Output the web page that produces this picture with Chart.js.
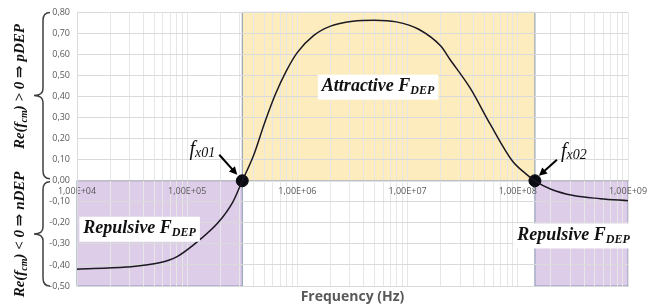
<!DOCTYPE html>
<html>
<head>
<meta charset="utf-8">
<script src="https://cdn.jsdelivr.net/npm/chart.js@4.4.1/dist/chart.umd.min.js"></script>
<style>
html, body { margin: 0; padding: 0; background: #fff; }
</style>
</head>
<body>
<canvas id="dep" width="655" height="308"></canvas>
<script>
// Re(fcm) vs frequency
var freqs = [1e4, 2.8e4, 5.6e4, 8.1e4, 1.3e5, 1.9e5, 2.6e5, 3.16e5, 4.0e5, 5.0e5,
             6.3e5, 7.9e5, 1.0e6, 1.4e6, 2.0e6, 3.2e6, 5.0e6, 7.9e6, 1.26e7, 2.0e7,
             2.4e7, 3.7e7, 5.6e7, 8.9e7, 1.17e8, 1.43e8, 2.0e8, 3.2e8, 5.6e8, 1e9];
var reFcm = [-0.42, -0.41, -0.39, -0.36, -0.28, -0.20, -0.10, 0.00, 0.12, 0.27,
             0.41, 0.52, 0.61, 0.69, 0.735, 0.758, 0.763, 0.755, 0.72, 0.64,
             0.58, 0.44, 0.27, 0.095, 0.035, 0.00, -0.04, -0.07, -0.085, -0.095];
var crossFreqs = [3.16e5, 1.43e8];          // fx01, fx02
var crossNames = ['x01', 'x02'];
var yMin = -0.5, yMax = 0.8, yStep = 0.1;
var xMin = 1e4, xMax = 1e9;
var xTitle = 'Frequency (Hz)';
// shaded zones: [from Hz, to Hz, from Re, to Re]
var attractiveZone = [3.16e5, 1.43e8, 0, 0.8];
var repulsiveZones = [[1e4, 3.16e5, -0.5, 0], [1.43e8, 1e9, -0.5, 0]];

var points = [];
for (var i = 0; i < freqs.length; i++) {
  points.push({ x: freqs[i], y: reFcm[i] });
}
var crossPts = crossFreqs.map(function (f) { return { x: f, y: 0 }; });

var SERIF = "'Liberation Serif', 'DejaVu Serif', serif";

// draw a run of text pieces (main + subscript) centred on cx, cy
function drawRuns(ctx, runs, cx, cy, bg) {
  var w = 0;
  runs.forEach(function (r) { ctx.font = r.font; r.w = ctx.measureText(r.t).width; w += r.w; });
  var x = cx - w / 2;
  if (bg) {
    ctx.fillStyle = '#fff';
    ctx.fillRect(x - 4, cy - 12, w + 8, 25);
  }
  ctx.fillStyle = '#111';
  ctx.textBaseline = 'middle';
  ctx.textAlign = 'left';
  runs.forEach(function (r) {
    ctx.font = r.font;
    ctx.fillText(r.t, x, cy + (r.dy || 0));
    x += r.w;
  });
}

function arrow(ctx, x1, y1, x2, y2) {
  var a = Math.atan2(y2 - y1, x2 - x1);
  ctx.strokeStyle = '#000';
  ctx.fillStyle = '#000';
  ctx.lineWidth = 2;
  ctx.beginPath();
  ctx.moveTo(x1, y1);
  ctx.lineTo(x2 - 5 * Math.cos(a), y2 - 5 * Math.sin(a));
  ctx.stroke();
  ctx.beginPath();
  ctx.moveTo(x2, y2);
  ctx.lineTo(x2 - 8 * Math.cos(a) + 4 * Math.sin(a), y2 - 8 * Math.sin(a) - 4 * Math.cos(a));
  ctx.lineTo(x2 - 8 * Math.cos(a) - 4 * Math.sin(a), y2 - 8 * Math.sin(a) + 4 * Math.cos(a));
  ctx.closePath();
  ctx.fill();
}

function brace(ctx, xLine, yTop, yBot, xEnd, xTip) {
  var mid = (yTop + yBot) / 2;
  ctx.beginPath();
  ctx.moveTo(xEnd, yTop);
  ctx.quadraticCurveTo(xLine, yTop, xLine, yTop + 8);
  ctx.lineTo(xLine, mid - 7);
  ctx.quadraticCurveTo(xLine, mid, xTip, mid);
  ctx.quadraticCurveTo(xLine, mid, xLine, mid + 7);
  ctx.lineTo(xLine, yBot - 8);
  ctx.quadraticCurveTo(xLine, yBot, xEnd, yBot);
  ctx.stroke();
}

function zoneRect(chart, z) {
  var xs = chart.scales.x, ys = chart.scales.y;
  var x1 = xs.getPixelForValue(z[0]), x2 = xs.getPixelForValue(z[1]);
  var y1 = ys.getPixelForValue(z[3]), y2 = ys.getPixelForValue(z[2]);
  return [x1, y1, x2 - x1, y2 - y1];
}

var depOverlay = {
  id: 'depOverlay',
  beforeDraw: function (chart) {
    var ctx = chart.ctx;
    ctx.save();
    var r = zoneRect(chart, attractiveZone);
    ctx.fillStyle = 'rgba(250,215,110,0.45)';
    ctx.fillRect(r[0], r[1], r[2], r[3]);
    ctx.strokeStyle = '#8496b0';
    ctx.lineWidth = 1;
    ctx.strokeRect(r[0], r[1], r[2], r[3]);
    repulsiveZones.forEach(function (z) {
      var q = zoneRect(chart, z);
      ctx.fillStyle = 'rgba(170,130,200,0.4)';
      ctx.fillRect(q[0], q[1], q[2], q[3]);
      ctx.strokeRect(q[0], q[1], q[2], q[3]);
    });
    ctx.restore();
  },
  afterDraw: function (chart) {
    var ctx = chart.ctx, xs = chart.scales.x, ys = chart.scales.y, ca = chart.chartArea;
    ctx.save();
    var bi = 'bold italic 18px ' + SERIF, biSub = 'bold italic 12px ' + SERIF;

    // zone labels
    drawRuns(ctx, [{ t: 'Attractive F', font: bi }, { t: 'DEP', font: biSub, dy: 4 }],
      xs.getPixelForValue(5.4e6), ys.getPixelForValue(0.447), true);
    drawRuns(ctx, [{ t: 'Repulsive F', font: bi }, { t: 'DEP', font: biSub, dy: 4 }],
      xs.getPixelForValue(3.7e4), ys.getPixelForValue(-0.228), true);
    drawRuns(ctx, [{ t: 'Repulsive F', font: bi }, { t: 'DEP', font: biSub, dy: 4 }],
      xs.getPixelForValue(3.2e8), ys.getPixelForValue(-0.26), true);

    // crossover labels + arrows
    var y0 = ys.getPixelForValue(0);
    var d1 = xs.getPixelForValue(crossFreqs[0]), d2 = xs.getPixelForValue(crossFreqs[1]);
    drawRuns(ctx, [{ t: 'f', font: 'italic 20px ' + SERIF }, { t: crossNames[0], font: 'italic 14px ' + SERIF, dy: 4 }],
      d1 - 40, y0 - 31, false);
    drawRuns(ctx, [{ t: 'f', font: 'italic 20px ' + SERIF }, { t: crossNames[1], font: 'italic 14px ' + SERIF, dy: 4 }],
      d2 + 39, y0 - 29, false);
    arrow(ctx, d1 - 23, y0 - 26, d1 - 5, y0 - 6);
    arrow(ctx, d2 + 22, y0 - 21, d2 + 4, y0 - 5);

    // x axis title, centred on the plot area
    ctx.fillStyle = '#595959';
    ctx.font = "bold 14px 'Open Sans', sans-serif";
    ctx.textAlign = 'center';
    ctx.textBaseline = 'middle';
    ctx.fillText(xTitle, (ca.left + ca.right) / 2, 297);

    // left side annotation with braces
    ctx.strokeStyle = '#404040';
    ctx.lineWidth = 1.5;
    var top = ys.getPixelForValue(yMax), bot = ys.getPixelForValue(yMin);
    brace(ctx, 43, top, y0 - 2, 50, 34);
    brace(ctx, 43, y0 + 1, bot, 50, 34);

    var bl = 'bold italic 15px ' + SERIF, blSub = 'bold italic 10px ' + SERIF;
    var up = (top + y0) / 2, dn = (y0 + bot) / 2;
    ctx.save();
    ctx.translate(20, up - 10);
    ctx.rotate(-Math.PI / 2);
    drawRuns(ctx, [{ t: 'Re(', font: bl }, { t: 'f', font: bl }, { t: 'cm', font: blSub, dy: 4 },
                   { t: ') > 0 \u21D2 pDEP', font: bl }], 0, 0, false);
    ctx.restore();
    ctx.save();
    ctx.translate(20, dn + 1);
    ctx.rotate(-Math.PI / 2);
    drawRuns(ctx, [{ t: 'Re(', font: bl }, { t: 'f', font: bl }, { t: 'cm', font: blSub, dy: 4 },
                   { t: ') < 0 \u21D2 nDEP', font: bl }], 0, 0, false);
    ctx.restore();
    ctx.restore();
  }
};

new Chart(document.getElementById('dep'), {
  type: 'line',
  data: {
    datasets: [
      {
        data: points,
        borderColor: '#1c1822',
        borderWidth: 1.5,
        pointRadius: 0,
        cubicInterpolationMode: 'monotone',
        fill: false
      },
      {
        type: 'scatter',
        data: crossPts,
        pointRadius: 6,
        backgroundColor: '#0b0b12',
        borderColor: '#0b0b12'
      }
    ]
  },
  options: {
    responsive: false,
    animation: false,
    devicePixelRatio: 1,
    layout: { padding: { left: 42, right: 27, top: 7, bottom: 22 } },
    plugins: {
      legend: { display: false },
      tooltip: { enabled: false },
      title: { display: false }
    },
    scales: {
      x: {
        type: 'logarithmic',
        position: { y: 0 },
        min: xMin,
        max: xMax,
        afterBuildTicks: function (s) {
          // Excel style minor grid: 1..9 per decade only
          s.ticks = s.ticks.filter(function (t) {
            var m = t.value / Math.pow(10, Math.floor(Math.log10(t.value) + 1e-9));
            return Math.abs(m - 1.5) > 1e-6;
          });
        },
        ticks: {
          autoSkip: false,
          maxRotation: 0,
          padding: 5,
          color: '#595959',
          font: { family: "'Open Sans', sans-serif", size: 9 },
          callback: function (v) {
            var l = Math.log10(v);
            if (Math.abs(l - Math.round(l)) < 1e-9) {
              return '1,00E+' + String(Math.round(l)).padStart(2, '0');
            }
            return '';
          }
        },
        grid: { color: '#e6e6e6', drawTicks: false },
        border: { display: true, color: '#bfbfbf' }
      },
      y: {
        min: yMin,
        max: yMax,
        afterFit: function (s) { s.width = 35; },
        ticks: {
          stepSize: yStep,
          padding: 7,
          color: '#595959',
          font: { family: "'Open Sans', sans-serif", size: 9 },
          callback: function (v) { return (Math.round(v * 100) / 100).toFixed(2).replace('.', ','); }
        },
        grid: { color: '#dadada', drawTicks: false },
        border: { display: true, color: '#dadada' }
      }
    }
  },
  plugins: [depOverlay]
});
</script>
</body>
</html>
